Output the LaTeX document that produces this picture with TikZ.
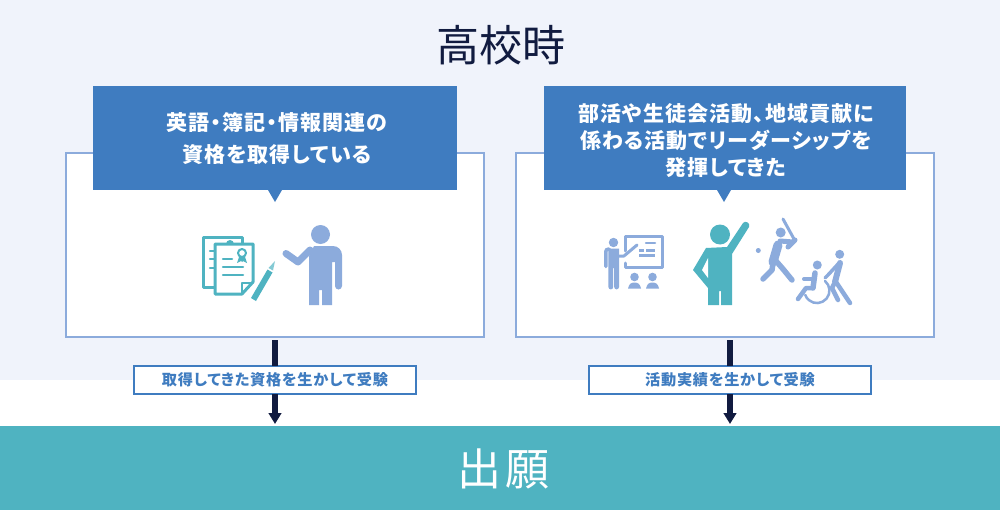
\documentclass[tikz,border=0pt]{standalone}
\usepackage{fontspec}
\setmainfont{Noto Sans CJK JP}
\newfontfamily\jp[RawFeature=+palt,LetterSpace=5]{Noto Sans CJK JP}
\usetikzlibrary{arrows.meta}
\definecolor{bgpale}{HTML}{F0F3FB}
\definecolor{teal1}{HTML}{4FB3C1}
\definecolor{blue1}{HTML}{3F7CC0}
\definecolor{peri}{HTML}{8CABDC}
\definecolor{navy}{HTML}{111B40}
\def\pxu{0.75pt}
\tikzset{
  x=0.75pt,y=-0.75pt,
  panel/.style={draw=peri,line width=2*\pxu,fill=white,minimum width=418*\pxu,minimum height=184*\pxu,outer sep=0pt,inner sep=0pt},
  callbox/.style={fill=blue1,outer sep=0pt,inner sep=0pt,minimum height=104*\pxu},
  calltext/.style={text=white,align=center,inner sep=0pt,font=\jp\bfseries\fontsize{15.75}{20.25}\selectfont},
  labelbox/.style={draw=blue1,line width=2*\pxu,fill=white,text=blue1,minimum width=282*\pxu,minimum height=28*\pxu,outer sep=0pt,inner sep=0pt,font=\jp\bfseries\fontsize{11.4}{14}\selectfont},
  flow/.style={draw=navy,line width=6*\pxu},
  flowarrow/.style={flow,-{Triangle[length=11*\pxu,width=12.5*\pxu,fill=navy]},shorten >=2*\pxu},
  ln/.style={line width=#1*\pxu,line cap=round,line join=round},
}
\begin{document}
\begin{tikzpicture}
\useasboundingbox (0,0) rectangle (1000,510);
\fill[white] (0,0) rectangle (1000,510);
\fill[bgpale] (0,0) rectangle (1000,380);
\node[text=navy,font=\fontsize{32.25}{36}\selectfont] (title) at (501,45) {高校時};
\node[panel] (box1) at (275,245) {};
\node[panel] (box2) at (725,245) {};
\node[callbox,minimum width=364*\pxu] (call1) at (275,138) {};
\node[callbox,minimum width=362*\pxu] (call2) at (725,138) {};
\node[calltext] (call1t) at (277,138.5) {英語・簿記・情報関連の\\[3.6pt]資格を取得している};
\node[calltext] (call2t) at (726,141) {部活や生徒会活動、地域貢献に\\係わる活動でリーダーシップを\\発揮してきた};
\fill[blue1] (268,190) -- (282,190) -- (275,202) -- cycle;
\fill[blue1] (717,190) -- (731,190) -- (724,202) -- cycle;
\fill[teal1] (0,426) rectangle (1000,510);
\coordinate (bandtop) at (0,426);
\node[text=white,font=\fontsize{33}{36}\selectfont] (band) at (503.5,469) {出\hspace{0.1em}願};
\node[labelbox] (lab1) at (275,380) {取得してきた資格を生かして受験};
\node[labelbox] (lab2) at (730,380) {活動実績を生かして受験};
\draw[flow,shorten <=3*\pxu] (box1.south) -- (lab1.north);
\draw[flow,shorten <=3*\pxu] (lab2.north |- box2.south) -- (lab2.north);
\draw[flowarrow] (lab1.south) -- (lab1.south |- bandtop);
\draw[flowarrow] (lab2.south) -- (lab2.south |- bandtop);
% documents
\draw[teal1,ln=3,fill=white] (203,237) rectangle (242,287);
\draw[teal1,ln=2.5] (210,251) -- (214,251) (210,259) -- (214,259) (210,268) -- (214,268);
\draw[teal1,ln=3,fill=white] (215,244) -- (253,244) -- (253,282) -- (242,294) -- (215,294) -- cycle;
\draw[teal1,ln=2] (242,294) -- (242,283) -- (253,283);
\fill[teal1] (226,244) arc (180:360:4) -- cycle;
\draw[teal1,ln=2.5] (223,259) -- (232,259) (223,267) -- (243,267) (223,275) -- (243,275);
\fill[teal1] (239,257) -- (237,263) -- (241,261) -- (242,262) -- (243,261) -- (247,263) -- (245,257) -- cycle;
\draw[teal1,ln=2,fill=white] (242,253) circle (4);
\fill[teal1] (251,298) -- (256,301) -- (272.5,272.5) -- (267.5,269.5) -- cycle;
\fill[teal1!70!white] (268.5,268) -- (273,270.5) -- (275,261) -- cycle;
% person 1
\fill[peri] (320.5,234.5) circle (9.5);
\fill[peri] (309,305) -- (309,256) -- (314,246) -- (333,246) arc (-90:0:9) -- (342,286) arc (0:180:3.5) -- (335,262) -- (332,262) -- (332,305) -- (322,305) -- (322,290) -- (319,290) -- (319,305) -- cycle;
\draw[peri,ln=7] (286,253.5) -- (298,262) -- (310,250);
% teacher
\draw[peri,ln=3] (625.5,251) -- (625.5,236) -- (662,236) -- (662,267.5) -- (625.5,267.5) -- (625.5,263);
\draw[peri,ln=2.5] (646,243) -- (655,243);
\draw[peri,line width=3*\pxu] (639,250) -- (644,250) (646,250) -- (655,250) (639,255) -- (655,255);
\fill[peri] (613.5,242.5) circle (4.7);
\fill[peri] (608.5,248.5) -- (619,248.5) -- (619,287) arc (0:180:2.4) -- (614.2,268) -- (613.2,268) -- (613.2,287) arc (0:180:2.4) -- cycle;
\draw[peri,ln=3.5] (605.8,251) -- (605.8,266.5) (606,250) -- (609,249);
\draw[peri,ln=3] (619,256) -- (624,256) -- (637,245);
\fill[peri] (634.5,277) circle (4.3) (652.5,277) circle (4.3);
\fill[peri] (628,288.5) .. controls (629,284) and (631,282.5) .. (634.5,282.5) .. controls (638,282.5) and (640,284) .. (641,288.5) -- cycle;
\fill[peri] (646,288.5) .. controls (647,284) and (649,282.5) .. (652.5,282.5) .. controls (656,282.5) and (658,284) .. (659,288.5) -- cycle;
% middle teal person
\fill[teal1] (720,234.5) circle (10);
\fill[teal1] (708,305) -- (708,288) -- (693,270) -- (706,248) -- (727,247) -- (743,223) .. controls (745,220) and (751,223) .. (749,227) -- (732,254) -- (732,305) -- (721,305) -- (721,291) -- (719,291) -- (719,305) -- cycle;
\fill[white] (708,258) -- (702,270) -- (708,278) -- cycle;
% batter
\fill[peri] (780.7,232.5) circle (5);
\fill[peri] (758.3,250.5) circle (2.5);
\draw[peri,ln=3] (783,219) -- (794,239);
\draw[peri,ln=9] (778,245) -- (773,262);
\draw[peri,ln=5] (780,241) -- (793,242) (788,247) -- (795,240);
\draw[peri,ln=5.5] (773,263) -- (772,270) -- (763,279);
\draw[peri,ln=5.5] (776,261) -- (783,269) -- (792,280);
% wheelchair
\fill[peri] (817.3,265) circle (4.5);
\fill[peri] (839.7,254.3) circle (4.5);
\draw[peri,ln=2.5] (825,281) arc (-50:160:12.5);
\draw[peri,ln=5.5] (815,273) -- (813,288);
\draw[peri,ln=4] (804,279) -- (813,279);
\draw[peri,ln=4.5] (813,288) -- (806,288) -- (798,299);
\draw[peri,ln=6] (840,263) -- (835,282);
\draw[peri,ln=4.5] (836,282) -- (850,303);
\draw[peri,ln=4.5] (834,284) -- (832,288) -- (838,300);
\draw[peri,ln=3.5] (839,263) -- (828,275) -- (825,278);
\end{tikzpicture}
\end{document}
